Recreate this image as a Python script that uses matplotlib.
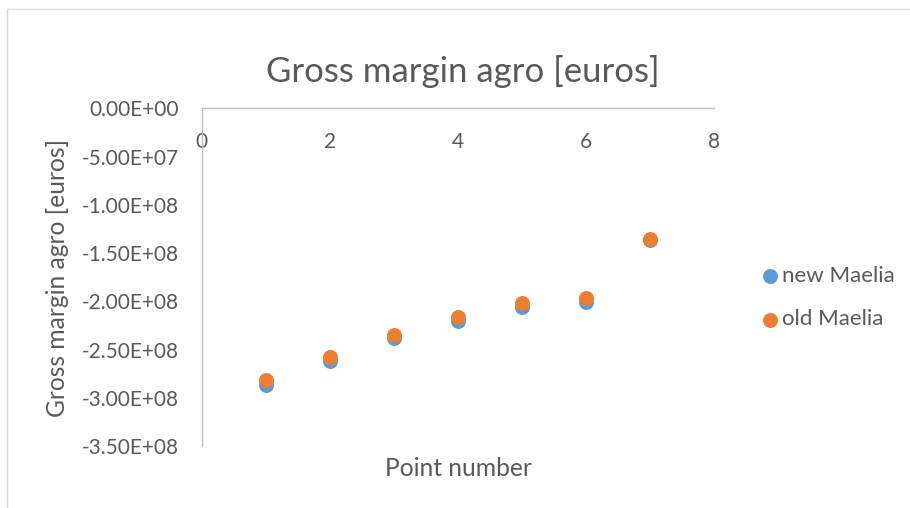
import matplotlib
matplotlib.use("Agg")
import matplotlib.pyplot as plt
from matplotlib.patches import Rectangle

# Gross margin per simulation point, two model versions
point_number = [1, 2, 3, 4, 5, 6, 7]
new_maelia = [-2.87e8, -2.62e8, -2.38e8, -2.20e8, -2.06e8, -2.01e8, -1.37e8]
old_maelia = [-2.82e8, -2.58e8, -2.35e8, -2.16e8, -2.02e8, -1.97e8, -1.35e8]
y_ticks = [0, -5e7, -1e8, -1.5e8, -2e8, -2.5e8, -3e8, -3.5e8]
x_ticks = [0, 2, 4, 6, 8]

BLUE = "#5B9BD5"
ORANGE = "#ED7D31"
TXT = "#595959"
AXIS = "#BFBFBF"

plt.rcParams["font.family"] = ["Lato", "DejaVu Sans"]

W, H = 910, 508
fig = plt.figure(figsize=(W / 100, H / 100), dpi=100)

# chart frame (only the left and top edges fall inside the image)
fig.patches.append(Rectangle((7 / W, -0.1), 1.2, 1 - 9 / H + 0.1,
                             transform=fig.transFigure, fill=False,
                             edgecolor="#D9D9D9", lw=1.0))

ax = fig.add_axes([201.7 / W, 1 - 446 / H, (714.3 - 201.7) / W, (446 - 108.3) / H])
ax.scatter(point_number, new_maelia, s=116, color=BLUE, label="new Maelia",
           zorder=3, linewidths=0)
ax.scatter(point_number, old_maelia, s=116, color=ORANGE, label="old Maelia",
           zorder=4, linewidths=0)

ax.set_xlim(0, 8)
ax.set_ylim(-3.5e8, 0)
ax.set_xticks(x_ticks)
ax.set_yticks(y_ticks)
ax.set_yticklabels([f"{v:.2E}" for v in y_ticks])

# x axis crosses at y = 0, i.e. along the top edge
ax.spines["bottom"].set_position(("data", 0))
for side in ["top", "right"]:
    ax.spines[side].set_visible(False)
for side in ["bottom", "left"]:
    ax.spines[side].set_color(AXIS)
    ax.spines[side].set_linewidth(1.0)

ax.tick_params(axis="both", length=0, labelsize=15, labelcolor=TXT)
ax.tick_params(axis="x", pad=17)
ax.tick_params(axis="y", pad=16.5)

fig.text(463 / W, 1 - 71 / H, "Gross margin agro [euros]", ha="center",
         va="center", fontsize=25, color=TXT)
fig.text(458 / W, 1 - 469 / H, "Point number", ha="center", va="center",
         fontsize=17.7, color=TXT)
fig.text(58 / W, 1 - 277.5 / H, "Gross margin agro [euros]", ha="center",
         va="center", rotation=90, fontsize=17.7, color=TXT)

leg = fig.legend(loc="center left", bbox_to_anchor=(761.8 / W, 1 - 297.5 / H),
                 frameon=False, fontsize=16, handletextpad=0.2,
                 handlelength=0.7, labelspacing=1.07, borderaxespad=0,
                 borderpad=0)
for t in leg.get_texts():
    t.set_color(TXT)

fig.savefig("out.png", dpi=100)
